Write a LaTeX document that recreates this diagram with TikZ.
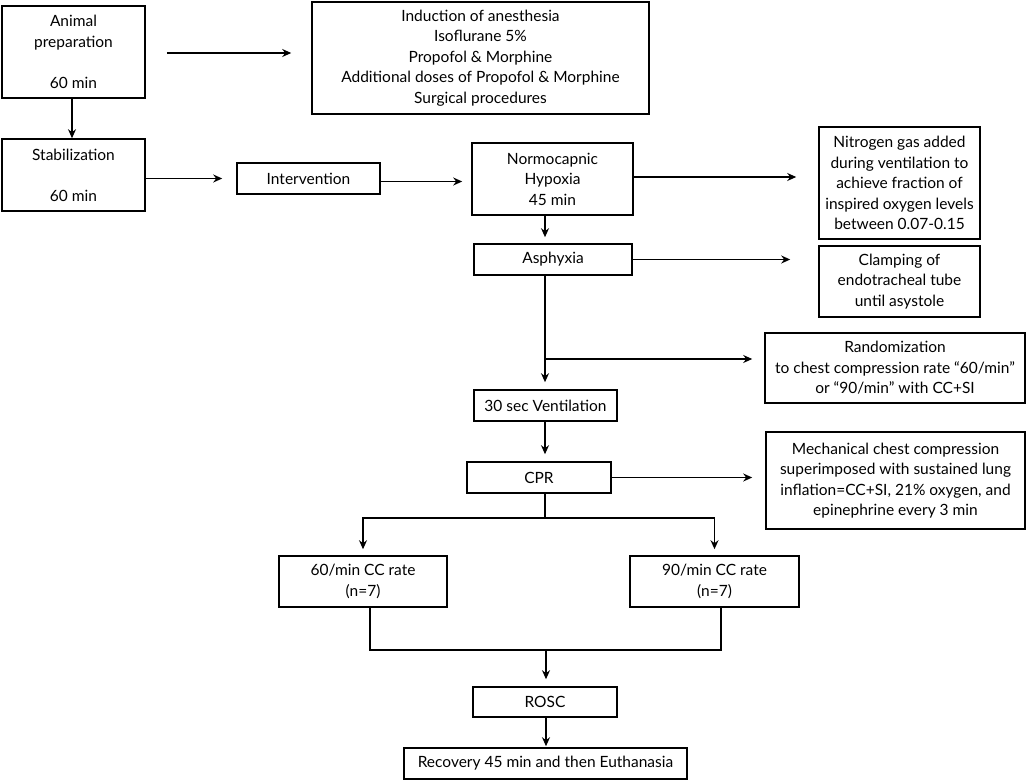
\documentclass[tikz,border=0pt]{standalone}
\usepackage{fontspec}
\setmainfont{Lato}
\usetikzlibrary{arrows.meta,calc}
\newcommand\fsz{\fontsize{15.5}{20.5}\selectfont}
\tikzset{
  box/.style={draw, line width=1.6pt, align=center, inner sep=0pt, font=\fsz},
  arr/.style={line width=1.5pt, -{Stealth[length=9pt,width=8pt]}},
  ln/.style={line width=1.5pt}
}
\begin{document}
\begin{tikzpicture}[x=1pt,y=-1pt]
\useasboundingbox (0,0) rectangle (1027,781);
% nodes
\node[box, minimum width=143, minimum height=92] (anim) at (73.5,52) {Animal\\preparation\\~\\60 min};
\node[box, minimum width=337, minimum height=112] (ind) at (480.5,58) {Induction of anesthesia\\Isoflurane 5\%\\Propofol \& Morphine\\Additional doses of Propofol \& Morphine\\Surgical procedures};
\node[box, minimum width=143, minimum height=72] (stab) at (73.5,175) {Stabilization\\~\\60 min};
\node[box, minimum width=143, minimum height=31] (intv) at (308.5,178.5) {Intervention};
\node[box, minimum width=161, minimum height=72] (normo) at (552.5,179) {Normocapnic\\Hypoxia\\45 min};
\node[box, minimum width=161, minimum height=112] (nitro) at (899.5,183) {Nitrogen gas added\\during ventilation to\\achieve fraction of\\inspired oxygen levels\\between 0.07-0.15};
\node[box, minimum width=158, minimum height=31] (asph) at (553,259.5) {Asphyxia};
\node[box, minimum width=161, minimum height=71] (clamp) at (899.5,281.5) {Clamping of\\endotracheal tube\\until asystole};
\node[box, minimum width=260, minimum height=70] (rand) at (895,368) {Randomization\\to chest compression rate “60/min”\\or “90/min” with CC+SI};
\node[box, minimum width=143, minimum height=31] (vent) at (545.5,405.5) {30 sec Ventilation};
\node[box, minimum width=144, minimum height=31] (cpr) at (539,477.5) {CPR};
\node[box, minimum width=259, minimum height=97] (mech) at (895.5,480.5) {Mechanical chest compression\\superimposed with sustained lung\\inflation=CC+SI, 21\% oxygen, and\\epinephrine every 3 min};
\node[box, minimum width=168, minimum height=51] (r60) at (363,581.5) {60/min CC rate\\(n=7)};
\node[box, minimum width=169, minimum height=51] (r90) at (714.5,581.5) {90/min CC rate\\(n=7)};
\node[box, minimum width=144, minimum height=30] (rosc) at (545,702) {ROSC};
\node[box, minimum width=283, minimum height=31] (recov) at (545.5,763.5) {Recovery 45 min and then Euthanasia};
% helper coordinates
\coordinate (sp) at (545,0);
\coordinate (ax) at (72,0);
\coordinate (rb) at (545,359);
\coordinate (br) at (545,518);
\coordinate (mg) at (546,650);
\coordinate (a1) at ([xshift=21pt,yshift=-1pt]anim.east);
\coordinate (a2) at ([yshift=-3pt]intv.east);
% connectors
\draw[arr] (a1) -- ([xshift=-20pt]ind.west |- a1);
\draw[arr] (anim.south -| ax) -- (stab.north -| ax);
\draw[arr, shorten >=14pt] (stab.east |- intv.west) -- (intv.west);
\draw[arr, shorten >=9pt] (a2) -- (normo.west |- a2);
\draw[arr, shorten >=22pt] ([yshift=2pt]normo.east) -- ([yshift=2pt]normo.east -| nitro.west);
\draw[arr, shorten >=6pt] (normo.south -| sp) -- (asph.north -| sp);
\draw[arr, shorten >=28pt] (asph.east) -- (clamp.west |- asph.east);
\draw[arr, shorten >=7pt] (asph.south -| sp) -- (vent.north -| sp);
\draw[arr, shorten >=12pt] (rb) -- (rand.west |- rb);
\draw[arr, shorten >=7pt] (vent.south -| sp) -- (cpr.north -| sp);
\draw[arr, shorten >=13pt] (cpr.east) -- (mech.west |- cpr.east);
\draw[ln] (cpr.south -| sp) -- (br);
\draw[arr, shorten >=6pt] (br) -| (r60.north);
\draw[arr, shorten >=6pt] (br) -| (r90.north);
\draw[ln] ([xshift=7pt]r60.south) |- (mg);
\draw[ln] ([xshift=6.5pt]r90.south) |- (mg);
\draw[arr, shorten >=7pt] (mg) -- (rosc.north -| mg);
\draw[arr, shorten >=1pt] (rosc.south -| mg) -- (recov.north -| mg);
\end{tikzpicture}
\end{document}
